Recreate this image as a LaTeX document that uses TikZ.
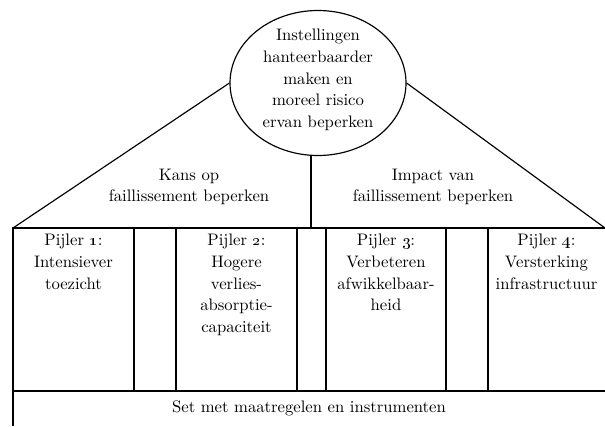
\documentclass[tikz,border=0pt]{standalone}
\usepackage{tikz}
\usetikzlibrary{shapes.geometric,positioning}

\begin{document}
\begin{tikzpicture}[
  x=0.6pt, y=-0.6pt,
  goalshape/.style={ellipse, draw=black, line width=0.7pt,
                    minimum width=105.6pt, minimum height=87pt, inner sep=0pt},
  txt/.style={align=center, font=\fontsize{10}{13}\selectfont, inner sep=0pt},
  pillar/.style={txt, anchor=north},
  wall/.style={line width=0.7pt, black}
]
\useasboundingbox (0,0) rectangle (605,426);
% roof top
\node[goalshape] (goal) at (318,83) {};
\node[txt] (goaltext) at (318,80) {Instellingen\\hanteerbaarder\\maken en\\moreel risico\\ervan beperken};
\coordinate (eavesL) at (13,228);
\coordinate (eavesR) at (605,228);
\coordinate (ridge) at (311,228);
\coordinate (floorL) at (13,391);
\coordinate (floorR) at (605,391);
\coordinate (baseL) at (13,426);
\draw[wall] (goal.west) -- (eavesL);
\draw[wall] (goal.east) -- (eavesR);
\draw[wall] (ridge) -- (ridge |- goal.south);
\node[txt] (kans) at (189,187) {Kans op\\faillissement beperken};
\node[txt] (impact) at (433,187) {Impact van\\faillissement beperken};
% frame and pillars
\draw[wall] (eavesR) -- (eavesL) -- (baseL);
\draw[wall] (floorL) -- (floorR);
\foreach \x in {134,176,297,326,446,488}
  \draw[wall] (\x,228) -- (\x,391);
\node[pillar] (p1) at (73.5,234) {Pijler \oldstylenums{1}:\\Intensiever\\toezicht};
\node[pillar] (p2) at (236.5,234) {Pijler \oldstylenums{2}:\\Hogere\\verlies-\\absorptie-\\capaciteit};
\node[pillar] (p3) at (386,234) {Pijler \oldstylenums{3}:\\Verbeteren\\afwikkelbaar-\\heid};
\node[pillar] (p4) at (546.5,234) {Pijler \oldstylenums{4}:\\Versterking\\infrastructuur};
\node[txt] (set) at (309,408) {Set met maatregelen en instrumenten};
\end{tikzpicture}
\end{document}
